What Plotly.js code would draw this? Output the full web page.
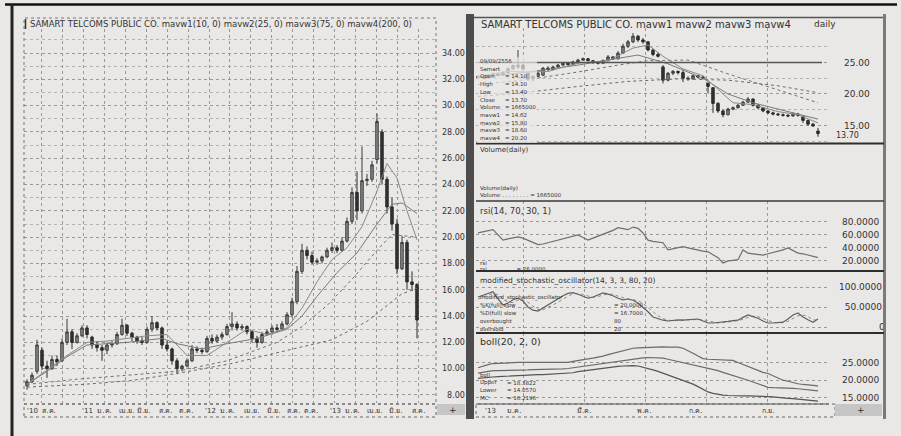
<!DOCTYPE html>
<html><head><meta charset="utf-8">
<script src="https://cdn.plot.ly/plotly-3.0.1.min.js"></script>
<style>html,body{margin:0;padding:0;background:#e9e8e6;}#chart{width:901px;height:436px;}</style>
</head><body><div id="chart"></div>
<script>
// ---------- LEFT (weekly) price data ----------
const leftOpen  = [8.7,9.0,9.8,11.4,10.2,10.0,10.7,10.6,12.0,12.8,12.0,12.5,13.1,12.4,11.8,11.6,11.4,11.8,11.9,12.6,13.3,12.7,12.4,12.1,12.0,13.0,13.5,13.1,11.8,11.5,10.6,10.0,10.2,10.6,11.5,11.4,11.3,12.3,12.1,12.4,12.6,13.2,13.4,13.1,13.2,12.8,12.3,12.0,12.6,12.8,13.1,13.0,13.4,14.1,15.1,17.4,19.0,18.6,18.1,18.2,18.5,19.0,19.2,19.0,19.7,21.2,23.4,22.0,24.3,24.4,25.9,28.0,24.4,22.3,21.0,17.6,19.6,16.6,16.4];
const leftHigh  = [9.2,9.7,12.2,11.6,10.6,11.0,11.0,12.3,13.8,13.0,12.7,13.3,13.3,12.5,12.1,11.8,12.0,12.1,12.8,13.8,13.4,12.8,12.5,12.4,13.2,14.0,13.6,13.2,12.1,11.6,10.8,10.3,10.8,11.8,11.7,11.6,12.5,12.6,12.6,12.8,13.4,14.3,13.6,13.4,13.3,12.9,12.5,12.8,13.0,13.3,13.4,13.6,14.3,15.4,17.8,19.5,19.3,18.9,18.4,18.6,19.2,19.6,19.4,20.0,21.5,23.8,25.0,26.9,24.8,25.8,29.4,28.2,24.6,23.0,21.4,20.1,19.8,17.4,16.5];
const leftLow   = [8.4,8.9,9.6,9.9,9.3,9.9,10.2,10.5,11.8,11.5,11.9,12.4,12.3,11.5,11.3,10.6,11.1,11.6,11.8,12.5,12.5,12.1,11.9,11.8,11.9,12.8,12.9,11.5,11.3,10.3,9.6,9.8,10.1,10.5,11.2,11.1,11.2,11.9,12.0,12.2,12.5,12.9,12.9,12.9,12.6,12.0,11.6,11.9,12.5,12.6,12.8,12.9,13.3,13.9,14.9,17.2,18.3,17.9,17.9,18.0,18.4,18.8,18.8,18.9,19.6,21.0,21.3,21.8,23.9,24.2,25.6,24.0,21.8,20.5,17.2,17.5,16.0,15.9,12.3];
const leftClose = [9.0,9.5,11.8,10.2,10.0,10.7,10.5,12.0,12.8,12.0,12.5,13.1,12.6,11.8,11.6,11.4,11.8,11.9,12.6,13.3,12.7,12.4,12.1,12.0,13.0,13.5,13.1,11.8,11.5,10.6,10.0,10.2,10.6,11.5,11.4,11.3,12.3,12.1,12.4,12.6,13.2,13.4,13.1,13.2,12.8,12.3,12.0,12.6,12.8,13.1,13.0,13.4,14.1,15.1,17.4,19.0,18.6,18.1,18.2,18.5,19.0,19.2,19.0,19.7,21.2,23.4,22.0,24.3,24.4,25.5,28.8,24.4,22.3,21.0,17.6,19.6,16.6,16.4,13.7];
// moving averages (week index -> price)
const leftMa1X = [0,4,8,12,16,20,24,28,32,36,40,44,48,52,55,58,61,64,67,70,72,74,76,78];
const leftMa1  = [8.8,9.9,11.0,12.0,12.1,12.3,12.5,12.6,11.0,11.0,12.0,13.0,12.6,13.1,14.6,16.6,18.3,19.2,20.8,23.5,25.6,24.5,22.0,19.8];
const leftMa2X = [0,4,8,12,20,27,30,35,40,46,52,55,58,62,66,70,73,75,78];
const leftMa2  = [8.8,9.8,10.9,11.8,12.0,12.3,11.9,11.5,11.9,12.3,13.0,14.0,15.5,17.3,18.8,21.0,22.5,22.6,21.8];
const leftMa3X = [0,10,20,30,40,50,55,60,65,70,73,78];
const leftMa3  = [8.8,9.2,9.5,9.8,10.6,12.0,13.2,14.8,16.8,19.0,20.2,20.0];
const leftMa4X = [0,11,21,31,41,51,61,68,75,78];
const leftMa4  = [8.6,8.8,9.1,9.7,10.4,11.3,12.2,13.6,15.7,16.1];
const leftYTicks = [8,10,12,14,16,18,20,22,24,26,28,30,32,34];
const leftXTickPos  = [-0.4,10.6,18,21.6,26,30,35.2,43,47.6,51.6,55,60.2,67.6,72,76.6];
const leftXTickText = ["'10  ส.ค.","'11  ม.ค.","เม.ย.","มิ.ย.","ส.ค.","ต.ค.","'12  ม.ค.","เม.ย.","มิ.ย.","ส.ค.","ต.ค.","'13  ม.ค.","เม.ย.","มิ.ย.","ส.ค."];

// ---------- RIGHT (daily) data ----------
const rOpen  = [22.6,22.8,22.6,22.9,23.2,23.0,23.4,24.0,24.3,24.6,23.3,22.4,22.8,23.0,24.1,23.9,24.3,24.6,24.9,24.7,25.1,25.4,25.6,25.3,25.0,24.9,25.3,25.9,25.6,26.5,27.6,28.3,29.2,28.6,28.3,27.0,26.3,24.3,22.2,23.3,23.6,23.4,22.5,22.4,22.9,22.7,21.7,21.0,18.5,17.3,16.7,17.6,17.8,18.2,18.7,19.2,18.2,17.8,17.3,17.0,16.8,16.7,16.6,16.5,16.8,16.4,15.8,15.2,14.1];
const rHigh  = [23.0,22.9,23.1,23.4,23.3,23.6,24.3,24.7,27.0,24.7,23.5,23.0,23.5,24.3,24.4,24.5,24.8,25.1,25.0,25.3,25.6,25.8,25.7,25.4,25.1,25.5,26.2,26.0,26.8,28.0,28.6,29.7,29.4,28.9,28.4,27.2,26.6,24.6,23.5,23.8,23.7,23.8,22.8,23.1,23.0,22.9,21.8,21.1,18.7,17.5,17.8,18.0,18.4,18.9,19.5,19.3,18.4,17.9,17.4,17.2,17.0,16.9,16.8,17.1,17.0,16.5,15.9,15.4,14.6];
const rLow   = [22.4,22.4,22.5,22.8,22.8,22.9,23.3,23.8,24.0,23.8,22.1,22.0,22.7,22.9,23.6,23.8,24.2,24.5,24.5,24.6,25.0,25.3,25.2,24.8,24.7,24.8,25.2,25.4,25.5,26.4,27.3,28.1,28.3,28.0,26.8,26.0,25.8,21.7,22.0,23.0,23.1,21.9,22.1,22.3,22.5,22.3,20.1,17.0,17.0,16.3,16.6,17.4,17.7,18.1,18.6,18.0,17.6,17.1,16.8,16.6,16.5,16.4,16.3,16.4,16.4,15.4,15.0,14.8,13.2];
const rClose = [22.8,22.6,22.9,23.2,23.0,23.4,24.0,24.5,24.6,24.0,22.4,22.8,23.3,24.1,23.9,24.3,24.6,24.9,24.7,25.1,25.4,25.6,25.3,25.0,24.9,25.3,25.9,25.6,26.5,27.6,28.3,29.2,28.6,28.3,27.0,26.3,26.0,22.2,23.3,23.6,23.4,22.5,22.4,22.9,22.7,22.5,21.2,18.5,17.3,16.7,17.6,17.8,18.2,18.7,19.2,18.2,17.8,17.3,17.0,16.8,16.7,16.6,16.5,16.8,16.6,15.8,15.2,14.9,13.7];
const rMa1X = [0,6,10,14,20,26,31,34,37,41,45,48,51,55,60,64,68];
const rMa1  = [22.8,23.6,23.5,23.6,24.9,25.3,27.3,27.8,26.0,24.0,22.9,20.8,18.6,18.3,17.2,16.7,15.4];
const rMa2X = [0,10,20,27,32,38,45,50,55,60,65,68];
const rMa2  = [22.6,23.5,24.6,25.6,26.2,24.8,22.5,20.0,18.6,17.6,16.6,16.0];
const rMa3X = [0,10,20,28,34,42,50,58,68];
const rMa3  = [21.5,22.3,23.5,24.6,25.3,25.4,23.2,21.2,18.6];
const rMa4X = [0,10,20,30,40,50,60,68];
const rMa4  = [19.6,20.3,21.2,22.0,22.4,22.2,21.3,20.2];
const rsi = [63,65,67,68,60,52,54,56,57,55,52,48,45,46,48,50,53,55,56,58,60,56,52,55,58,60,63,67,71,69,68,72,70,63,52,50,49,48,37,39,41,42,40,38,37,35,34,29,25,17,20,21,22,37,32,31,30,29,31,33,34,37,40,36,32,31,29,27,25];
const stochK = [75,80,85,88,70,55,60,68,72,65,50,42,40,48,55,62,70,78,84,86,82,76,72,75,80,85,82,78,72,68,70,67,60,50,38,25,20,17,15,17,18,17,18,19,20,15,10,10,11,12,14,16,17,24,30,26,22,15,10,10,11,12,20,30,35,25,18,12,20];
const stochD = [70,75,80,84,81,71,62,61,67,68,62,52,44,43,48,55,62,70,77,83,84,81,77,74,76,80,82,82,77,73,70,68,66,59,49,38,28,21,17,16,17,17,18,18,19,18,15,12,10,11,12,14,16,19,24,27,26,21,16,12,10,11,14,21,28,30,26,18,17];
const bollUpper = [23.5,24.0,24.4,24.7,24.8,24.9,24.9,25.0,25.0,25.0,25.0,25.0,25.0,25.0,25.0,25.0,25.0,25.0,25.0,25.3,25.6,25.8,26.0,26.2,26.4,26.8,27.2,27.6,28.0,28.4,28.7,29.0,29.1,29.2,29.3,29.3,29.4,29.4,29.3,29.3,29.3,29.0,28.4,27.6,26.8,26.1,25.9,25.8,25.8,25.7,25.7,25.6,25.0,24.4,23.8,23.2,22.6,22.2,21.9,21.3,20.6,20.0,19.7,19.3,19.0,18.8,18.6,18.5,18.4];
const bollMid = [22.0,22.3,22.5,22.7,22.7,22.7,22.8,22.8,22.9,22.9,22.9,23.0,23.0,23.0,23.1,23.1,23.2,23.2,23.3,23.5,23.8,24.0,24.2,24.4,24.7,24.9,25.1,25.3,25.5,25.7,25.9,26.1,26.2,26.3,26.4,26.4,26.4,26.2,25.9,25.6,25.3,25.0,24.7,24.4,24.0,23.7,23.4,23.0,22.7,22.2,21.8,21.3,20.9,20.5,20.0,19.5,19.0,18.5,18.0,17.9,17.9,17.8,17.8,17.7,17.6,17.5,17.3,17.1,17.0];
const bollLower = [20.5,20.7,20.8,20.9,21.0,21.1,21.2,21.2,21.3,21.3,21.4,21.5,21.6,21.6,21.7,21.8,21.8,21.9,21.9,22.1,22.4,22.6,22.8,23.0,23.3,23.5,23.7,23.8,23.9,24.0,24.1,24.1,24.0,23.7,23.3,22.9,22.5,22.0,21.5,21.0,20.5,20.0,19.5,18.9,18.2,17.5,16.7,16.3,16.0,15.8,15.7,15.6,15.6,15.6,15.6,15.6,15.6,15.6,15.4,15.3,15.1,15.0,14.9,14.8,14.7,14.5,14.4,14.2,14.1];
const rightXTickPos  = [1,5.4,19.4,31.4,41.8,56.4];
const rightXTickText = ["'13","ม.ค.","มี.ค.","พ.ค.","ก.ค.","ก.ย."];
const dataBoxNames  = ["09/09/2556","Samart","Open","High","Low","Close","Volume","mavw1","mavw2","mavw3","mavw4"];
const dataBoxValues = ["","","= 14.10","= 14.10","= 13.40","= 13.70","= 1665000","= 14.62","= 15.80","= 18.60","= 20.20"];
const stochLegNames  = ["modified_stochastic_oscillator","%K(full) slow","%D(full) slow","overbought","oversold"];
const stochLegValues = ["","= 20.0000","= 16.7000","80","20"];
const bollLegNames  = ["boll","Upper","Lower","MC"];
const bollLegValues = ["","= 18.3822","= 14.0570","= 16.2196"];

// ---------- helpers ----------
const W=901,H=436;
const X=p=>p/W, Y=p=>1-p/H;
const FONT='DejaVu Sans';
const idx=n=>Array.from({length:n},(_,i)=>i);
const lx=idx(leftClose.length), rx=idx(rClose.length);
const FS='\u2007';

const candleStyle={increasing:{line:{color:'#3a3a3a',width:1},fillcolor:'#8c8c8c'},
  decreasing:{line:{color:'#2a2a2a',width:1},fillcolor:'#333333'},whiskerwidth:0,hoverinfo:'skip',showlegend:false};
function line(x,y,xa,ya,color,width,dash){return {type:'scatter',mode:'lines',x:x,y:y,xaxis:xa,yaxis:ya,
  line:{color:color,width:width,dash:dash||'solid'},hoverinfo:'skip',showlegend:false};}

const traces=[
  line(leftMa4X,leftMa4,'x','y','#6a6a6a',1,'dot'),
  line(leftMa3X,leftMa3,'x','y','#707070',1,'dot'),
  line(leftMa2X,leftMa2,'x','y','#7a7a7a',1,'solid'),
  line(leftMa1X,leftMa1,'x','y','#8a8a8a',1,'solid'),
  Object.assign({type:'candlestick',x:lx,open:leftOpen,high:leftHigh,low:leftLow,close:leftClose,xaxis:'x',yaxis:'y'},candleStyle),
  line(rMa4X,rMa4,'x2','y2','#6a6a6a',1,'dot'),
  line(rMa3X,rMa3,'x2','y2','#707070',1,'dot'),
  line(rMa2X,rMa2,'x2','y2','#7a7a7a',1,'solid'),
  line(rMa1X,rMa1,'x2','y2','#8a8a8a',1,'solid'),
  Object.assign({type:'candlestick',x:rx,open:rOpen,high:rHigh,low:rLow,close:rClose,xaxis:'x2',yaxis:'y2'},candleStyle),
  line(rx,rsi,'x4','y4','#6e6e6e',1.2),
  line(rx,stochD,'x5','y5','#8a8a8a',1,'dot'),
  line(rx,stochK,'x5','y5','#606060',1.2),
  line(rx,bollUpper,'x6','y6','#6a6a6a',1.2),
  line(rx,bollMid,'x6','y6','#6a6a6a',1.2),
  line(rx,bollLower,'x6','y6','#555555',1.2)
];

const gridC='#999999';
function rxAxis(anchor){return {domain:[X(476),X(829)],range:[-0.4,70.2],anchor:anchor,showticklabels:false,ticks:'',
  tickmode:'linear',tick0:9,dtick:12.2,showgrid:true,gridcolor:gridC,griddash:'dot',zeroline:false,showline:false,
  rangeslider:{visible:false},fixedrange:true};}
function ryAxis(anchor,top,bottom,range,vals,texts,standoff,extra){return Object.assign({domain:[Y(bottom),Y(top)],range:range,anchor:anchor,side:'right',
  tickmode:'array',tickvals:vals,ticktext:texts,ticks:'',ticklabelstandoff:standoff,tickfont:{family:FONT,size:9,color:'#333'},
  showgrid:true,gridcolor:gridC,griddash:'dot',zeroline:false,showline:false,fixedrange:true},extra||{});}

const layout={
  width:W,height:H,margin:{l:0,r:0,t:0,b:0},paper_bgcolor:'#e9e8e6',plot_bgcolor:'rgba(0,0,0,0)',showlegend:false,
  font:{family:FONT,color:'#333'},
  xaxis:{domain:[X(24),X(436)],range:[-0.6,81.8],anchor:'y',showticklabels:false,ticks:'',tickmode:'linear',tick0:2.96,dtick:4.18,
    showgrid:true,gridcolor:gridC,griddash:'dot',zeroline:false,showline:false,rangeslider:{visible:false},fixedrange:true},
  yaxis:{domain:[Y(403),Y(29)],range:[7.39,35.83],anchor:'x',side:'right',tickmode:'array',tickvals:leftYTicks,
    ticktext:leftYTicks.map(v=>(v<10?FS:'')+v.toFixed(2)),ticks:'',ticklabelstandoff:5,tickfont:{family:FONT,size:8,color:'#333'},
    showgrid:true,gridcolor:gridC,griddash:'dot',zeroline:false,showline:false,fixedrange:true,
    minor:{tickmode:'linear',tick0:1,dtick:2,showgrid:true,gridcolor:'#b4b4b4',griddash:'dot',ticks:''}},
  xaxis2:rxAxis('y2'),
  yaxis2:ryAxis('x2',28,143,[12.2,30.5],[15,20,25],['15.00','20.00','25.00'],14,{minor:{tickmode:'linear',tick0:12.5,dtick:5,showgrid:true,gridcolor:'#b4b4b4',griddash:'dot',ticks:''}}),
  xaxis3:rxAxis('y3'),
  yaxis3:ryAxis('x3',144,201,[7.6e6,42.1e6],[1e7,2e7,3e7],['10000000','20000000','30000000'],7),
  xaxis4:rxAxis('y4'),
  yaxis4:ryAxis('x4',201,271,[4.6,112],[20,40,60,80],['20.0000','40.0000','60.0000','80.0000'],12),
  xaxis5:rxAxis('y5'),
  yaxis5:ryAxis('x5',271,333,[-15,140],[0,50,100],[FS.repeat(7)+'0',FS+'50.0000','100.0000'],9),
  xaxis6:rxAxis('y6'),
  yaxis6:ryAxis('x6',333,404,[13.3,33.3],[15,20,25],['15.0000','20.0000','25.0000'],12),
  shapes:[],annotations:[]
};

const S=layout.shapes, A=layout.annotations;
function hl(x0,x1,y,color,w,dash){S.push({type:'line',xref:'paper',yref:'paper',x0:X(x0),x1:X(x1),y0:Y(y),y1:Y(y),line:{color:color,width:w,dash:dash||'solid'}});}
function vl(x,y0,y1,color,w,dash){S.push({type:'line',xref:'paper',yref:'paper',x0:X(x),x1:X(x),y0:Y(y0),y1:Y(y1),line:{color:color,width:w,dash:dash||'solid'}});}
function rect(x0,y0,x1,y1,fill,lc,lw,dash){S.push({type:'rect',xref:'paper',yref:'paper',x0:X(x0),x1:X(x1),y0:Y(y1),y1:Y(y0),fillcolor:fill||'rgba(0,0,0,0)',line:{color:lc||'rgba(0,0,0,0)',width:lw||0,dash:dash||'solid'},layer:'above'});}
function txt(t,x,y,size,opts){A.push(Object.assign({text:t,xref:'paper',yref:'paper',x:X(x),y:Y(y),xanchor:'left',yanchor:'middle',showarrow:false,
  font:{family:FONT,size:size,color:'#333'}},opts||{}));}

// frames
hl(5,897,4.5,'#111',2.5);
vl(12,4,436,'#222',3);
rect(24,18,436,404,null,'#777',1,'dot');
vl(25.5,19,29,'#333',1.5);
rect(24,404,436,417,null,'#666',1,'dot');
rect(437,404,465,415,'#c6c6c6');
rect(466,14,474,419,'#4d4d4d');
hl(474,884,17.5,'#555',1.5);
vl(884.5,14,419,'#7a7a7a',3);
hl(476,884,143.5,'#2e2e2e',2);
hl(476,884,201,'#3a3a3a',1.5);
hl(476,884,271,'#2e2e2e',2);
hl(476,884,333,'#2e2e2e',2);
hl(476,829,404,'#555',1);
rect(476,404,835,417,null,'#666',1,'dot');
rect(835,404,882,416,'#c6c6c6');
S.push({type:'line',xref:'paper',yref:'y2',x0:X(478),x1:X(822),y0:25,y1:25,line:{color:'#555',width:1.5}});
rect(477,57,537,143,'rgba(233,232,230,0.7)');

// titles & labels
txt('SAMART TELCOMS PUBLIC CO. mavw1(10, 0) mavw2(25, 0) mavw3(75, 0) mavw4(200, 0)',28,24,8.5);
txt('SAMART TELCOMS PUBLIC CO. mavw1 mavw2 mavw3 mavw4',479,24,10);
txt('daily',812,24,9);
dataBoxNames.forEach((n,i)=>{txt(n,478,61+i*7.7,5.5); if(dataBoxValues[i]) txt(dataBoxValues[i],503,61+i*7.7,5.5);});
txt('13.70',834,135,8);
txt('Volume(daily)',478,150,7);
txt('Volume(daily)',478,188,5.5);
txt('Volume . . . . . . . . = 1665000',478,195,5.5);
txt('rsi(14, 70, 30, 1)',478,211,8.5);
txt('rsi',478,263,5.5);
txt('rsi . . . . . . . . = 26.0000',478,269,5.5);
txt('modified_stochastic_oscillator(14, 3, 3, 80, 20)',478,280,7.5);
stochLegNames.forEach((n,i)=>{txt(n,478,297+i*8.1,5.5); if(stochLegValues[i]) txt(stochLegValues[i],612,297+i*8.1,5.5);});
txt('boll(20, 2, 0)',478,341,9.5);
bollLegNames.forEach((n,i)=>{txt(n,478,375+i*7.6,5.5); if(bollLegValues[i]) txt(bollLegValues[i],505,375+i*7.6,5.5);});
leftXTickPos.forEach((p,i)=>A.push({text:leftXTickText[i],xref:'x',yref:'paper',x:p,y:Y(410.5),xanchor:'left',yanchor:'middle',showarrow:false,font:{family:FONT,size:7,color:'#333'}}));
rightXTickPos.forEach((p,i)=>A.push({text:rightXTickText[i],xref:'x2',yref:'paper',x:p,y:Y(410.5),xanchor:'left',yanchor:'middle',showarrow:false,font:{family:FONT,size:7,color:'#333'}}));
txt('+',447,410,9);
txt('+',855,410,9);

Plotly.newPlot('chart',traces,layout,{staticPlot:true,displayModeBar:false});
</script></body></html>
